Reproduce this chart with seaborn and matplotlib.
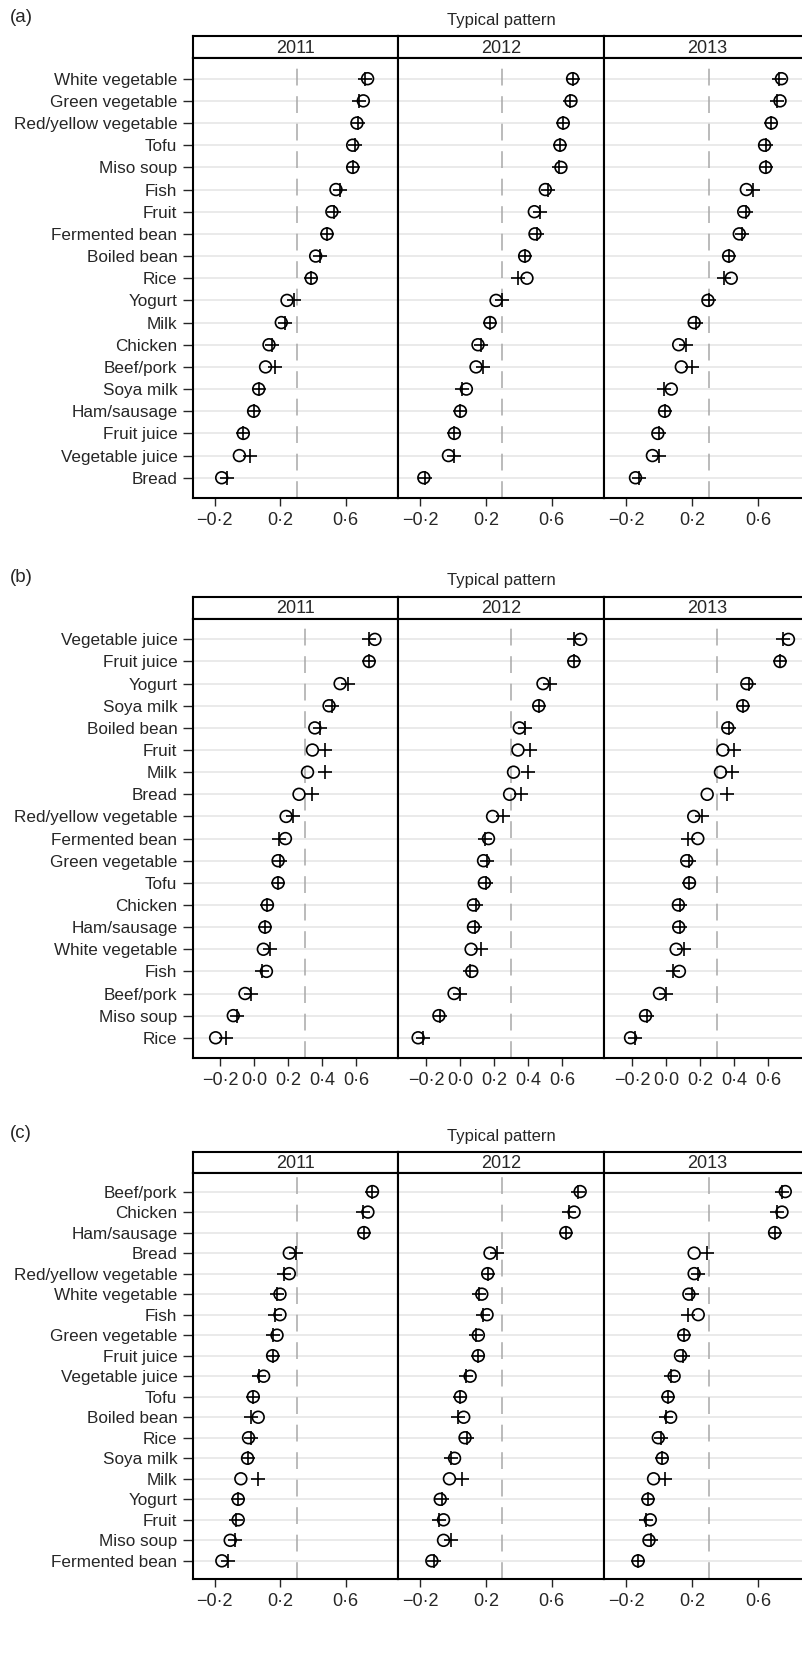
import numpy as np, pandas as pd
import matplotlib
matplotlib.use("Agg")
import matplotlib.pyplot as plt
import seaborn as sns

years = ["2011", "2012", "2013"]

# panel (a)
foods_a = ["White vegetable", "Green vegetable", "Red/yellow vegetable", "Tofu", "Miso soup",
           "Fish", "Fruit", "Fermented bean", "Boiled bean", "Rice", "Yogurt", "Milk",
           "Chicken", "Beef/pork", "Soya milk", "Ham/sausage", "Fruit juice",
           "Vegetable juice", "Bread"]
a11_circ = [0.733, 0.707, 0.668, 0.642, 0.642, 0.540, 0.515, 0.485, 0.416, 0.389, 0.241, 0.206, 0.131, 0.110, 0.068, 0.037, -0.026, -0.050, -0.158]
a11_plus = [0.715, 0.682, 0.672, 0.658, 0.642, 0.566, 0.530, 0.485, 0.440, 0.389, 0.281, 0.226, 0.149, 0.165, 0.068, 0.037, -0.026, 0.017, -0.126]
a12_circ = [0.727, 0.717, 0.670, 0.650, 0.656, 0.561, 0.494, 0.498, 0.435, 0.449, 0.261, 0.224, 0.151, 0.139, 0.080, 0.044, 0.007, -0.029, -0.179]
a12_plus = [0.727, 0.711, 0.670, 0.650, 0.642, 0.575, 0.530, 0.510, 0.435, 0.397, 0.297, 0.224, 0.170, 0.180, 0.056, 0.044, 0.007, 0.007, -0.171]
a13_circ = [0.744, 0.735, 0.682, 0.641, 0.647, 0.530, 0.514, 0.487, 0.422, 0.438, 0.296, 0.212, 0.118, 0.134, 0.073, 0.032, -0.009, -0.042, -0.145]
a13_plus = [0.729, 0.719, 0.682, 0.647, 0.647, 0.571, 0.528, 0.504, 0.422, 0.395, 0.303, 0.223, 0.161, 0.196, 0.026, 0.032, -0.003, 0.001, -0.122]

# panel (b)
foods_b = ["Vegetable juice", "Fruit juice", "Yogurt", "Soya milk", "Boiled bean", "Fruit",
           "Milk", "Bread", "Red/yellow vegetable", "Fermented bean", "Green vegetable",
           "Tofu", "Chicken", "Ham/sausage", "White vegetable", "Fish", "Beef/pork",
           "Miso soup", "Rice"]
b11_circ = [0.710, 0.676, 0.505, 0.440, 0.356, 0.342, 0.313, 0.263, 0.187, 0.183, 0.140, 0.140, 0.077, 0.063, 0.053, 0.071, -0.055, -0.124, -0.228]
b11_plus = [0.676, 0.676, 0.554, 0.460, 0.387, 0.415, 0.415, 0.338, 0.230, 0.145, 0.151, 0.140, 0.077, 0.063, 0.092, 0.047, -0.022, -0.104, -0.165]
b12_circ = [0.708, 0.668, 0.487, 0.462, 0.348, 0.340, 0.314, 0.291, 0.191, 0.167, 0.138, 0.143, 0.079, 0.079, 0.065, 0.069, -0.035, -0.124, -0.246]
b12_plus = [0.668, 0.668, 0.531, 0.462, 0.383, 0.413, 0.399, 0.358, 0.252, 0.147, 0.161, 0.150, 0.094, 0.088, 0.124, 0.059, 0.000, -0.118, -0.220]
b13_circ = [0.718, 0.669, 0.474, 0.450, 0.362, 0.333, 0.319, 0.241, 0.162, 0.186, 0.121, 0.137, 0.072, 0.074, 0.059, 0.078, -0.039, -0.121, -0.209]
b13_plus = [0.685, 0.669, 0.489, 0.454, 0.368, 0.401, 0.387, 0.356, 0.211, 0.127, 0.137, 0.137, 0.084, 0.084, 0.104, 0.039, 0.000, -0.114, -0.180]

# panel (c)
foods_c = ["Beef/pork", "Chicken", "Ham/sausage", "Bread", "Red/yellow vegetable",
           "White vegetable", "Fish", "Green vegetable", "Fruit juice", "Vegetable juice",
           "Tofu", "Boiled bean", "Rice", "Soya milk", "Milk", "Yogurt", "Fruit",
           "Miso soup", "Fermented bean"]
c11_circ = [0.763, 0.735, 0.710, 0.255, 0.255, 0.198, 0.198, 0.180, 0.153, 0.098, 0.035, 0.065, 0.006, 0.000, -0.041, -0.057, -0.057, -0.106, -0.157]
c11_plus = [0.763, 0.704, 0.710, 0.296, 0.224, 0.180, 0.169, 0.157, 0.153, 0.071, 0.035, 0.020, 0.020, 0.000, 0.061, -0.057, -0.071, -0.078, -0.122]
c12_circ = [0.773, 0.736, 0.686, 0.224, 0.210, 0.174, 0.206, 0.153, 0.153, 0.103, 0.044, 0.064, 0.072, 0.008, -0.023, -0.079, -0.059, -0.059, -0.130]
c12_plus = [0.758, 0.706, 0.686, 0.267, 0.210, 0.159, 0.180, 0.139, 0.153, 0.078, 0.044, 0.028, 0.085, -0.013, 0.054, -0.067, -0.084, -0.013, -0.118]
c13_circ = [0.767, 0.747, 0.702, 0.212, 0.212, 0.180, 0.237, 0.149, 0.129, 0.090, 0.053, 0.069, -0.006, 0.018, -0.035, -0.069, -0.055, -0.063, -0.129]
c13_plus = [0.747, 0.716, 0.702, 0.288, 0.237, 0.196, 0.176, 0.149, 0.145, 0.073, 0.053, 0.043, 0.012, 0.018, 0.033, -0.069, -0.084, -0.053, -0.129]

ticks_ac = [-0.2, 0.2, 0.6]
ticklab_ac = ["\u22120\u00b72", "0\u00b72", "0\u00b76"]
ticks_b = [-0.2, 0.0, 0.2, 0.4, 0.6]
ticklab_b = ["\u22120\u00b72", "0\u00b70", "0\u00b72", "0\u00b74", "0\u00b76"]
cutoff = 0.3

sns.set_style("white")
plt.rcParams["font.family"] = ["Liberation Sans", "DejaVu Sans"]

W, H = 802, 1654
fig = plt.figure(figsize=(W / 100, H / 100), dpi=100)

def box(x0, x1, yt, yb):
    return [x0 / W, 1 - yb / H, (x1 - x0) / W, (yb - yt) / H]

fx = [192.7, 398.2, 604.3, 810.4]

panels = [
    dict(tag="(a)", foods=foods_a, circ=[a11_circ, a12_circ, a13_circ], plus=[a11_plus, a12_plus, a13_plus],
         ticks=ticks_ac, labs=ticklab_ac, xlim=(-0.335, 0.92), title_y=20, strip=(36, 58.3), plot=(58.3, 497.7)),
    dict(tag="(b)", foods=foods_b, circ=[b11_circ, b12_circ, b13_circ], plus=[b11_plus, b12_plus, b13_plus],
         ticks=ticks_b, labs=ticklab_b, xlim=(-0.363, 0.847), title_y=580.7, strip=(596.7, 619), plot=(619, 1057.7)),
    dict(tag="(c)", foods=foods_c, circ=[c11_circ, c12_circ, c13_circ], plus=[c11_plus, c12_plus, c13_plus],
         ticks=ticks_ac, labs=ticklab_ac, xlim=(-0.335, 0.92), title_y=1136.7, strip=(1151.7, 1172.7), plot=(1172.7, 1579.3)),
]

for p in panels:
    fig.text(10 / W, 1 - (p["title_y"] - 3) / H, p["tag"], ha="left", va="center", fontsize=13.5)
    fig.text((fx[1] + fx[2]) / 2 / W, 1 - p["title_y"] / H, "Typical pattern", ha="center", va="center", fontsize=12)
    for i, yr in enumerate(years):
        # strip header
        sax = fig.add_axes(box(fx[i], fx[i + 1], p["strip"][0], p["strip"][1]))
        sax.set_xticks([]); sax.set_yticks([])
        for s in sax.spines.values():
            s.set_linewidth(1.5); s.set_color("black")
        sax.text(0.5, 0.45, yr, ha="center", va="center", fontsize=13, transform=sax.transAxes)

        ax = fig.add_axes(box(fx[i], fx[i + 1], p["plot"][0], p["plot"][1]))
        df = pd.DataFrame({"food": p["foods"], "circ": p["circ"][i], "plus": p["plus"][i]})
        for k, f in enumerate(p["foods"]):
            ax.axhline(k, color="#e8e8e8", lw=1.3, zorder=0)
        ax.axvline(cutoff, color="#a8a8a8", lw=1.1, ls=(0, (11, 7)), zorder=1)
        sns.scatterplot(data=df, x="circ", y="food", marker="o", s=72, facecolor="none",
                        edgecolor="black", linewidth=1.2, ax=ax, zorder=3)
        sns.scatterplot(data=df, x="plus", y="food", marker="+", s=95, color="black",
                        linewidth=1.2, ax=ax, zorder=4)
        ax.set_ylim(18.9, -0.92)
        ax.set_xlim(*p["xlim"])
        ax.set_xticks(p["ticks"])
        ax.set_xticklabels(p["labs"], fontsize=13)
        ax.set_xlabel(""); ax.set_ylabel("")
        ax.tick_params(axis="x", direction="out", length=6, width=1, bottom=True, pad=4)
        if i == 0:
            ax.set_yticks(range(len(p["foods"])))
            ax.set_yticklabels(p["foods"], fontsize=12.3)
            ax.tick_params(axis="y", direction="out", length=7, width=1, left=True, pad=4)
        else:
            ax.set_yticks(range(len(p["foods"])))
            ax.tick_params(axis="y", left=False, labelleft=False)
        for s in ax.spines.values():
            s.set_linewidth(1.5); s.set_color("black")
        ax.grid(False)

fig.savefig("out.png", dpi=100)
